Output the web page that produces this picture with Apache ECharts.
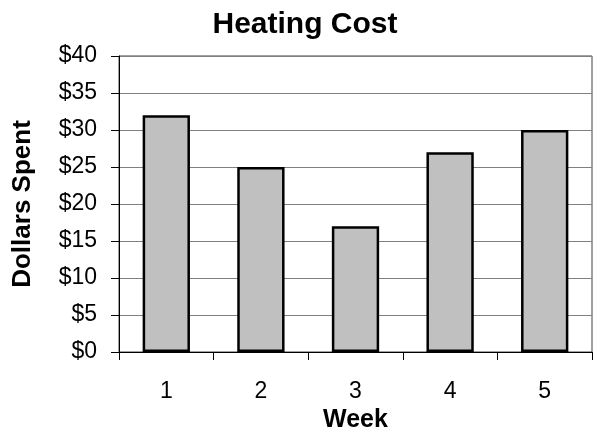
<!DOCTYPE html>
<html><head><meta charset="utf-8">
<script src="https://cdn.jsdelivr.net/npm/echarts@6/dist/echarts.min.js"></script>
<style>html,body{margin:0;padding:0;background:#fff}#c{width:594px;height:430px}</style>
</head><body><div id="c"></div>
<script>
const categories = ['1','2','3','4','5'];
const values = [32, 25, 17, 27, 30];
const yTicks = {min: 0, max: 40, interval: 5};
const chart = echarts.init(document.getElementById('c'), null, {renderer: 'canvas'});
const font = 'Liberation Sans, Arial, sans-serif';
chart.setOption({
  animation: false,
  title: {text: 'Heating Cost', left: 300, top: 5, textAlign: 'center',
    textStyle: {fontFamily: font, fontSize: 30, fontWeight: 'bold', color: '#000'}},
  grid: {left: 119, top: 56, right: 2, bottom: 78, show: true, borderColor: '#404040', borderWidth: 1,
    outerBoundsMode: 'none', containLabel: false},
  xAxis: {type: 'category', data: categories,
    name: 'Week', nameLocation: 'middle', nameGap: 43,
    nameTextStyle: {fontFamily: font, fontSize: 25, fontWeight: 'bold', color: '#000'},
    axisLine: {lineStyle: {color: '#000', width: 1}},
    axisTick: {show: true, length: 8, lineStyle: {color: '#000'}},
    axisLabel: {fontFamily: font, fontSize: 23, color: '#000', margin: 28}},
  yAxis: {type: 'value', min: yTicks.min, max: yTicks.max, interval: yTicks.interval,
    name: 'Dollars Spent', nameLocation: 'middle', nameGap: 83, nameRotate: 90,
    nameTextStyle: {fontFamily: font, fontSize: 26, fontWeight: 'bold', color: '#000'},
    axisLine: {show: true, lineStyle: {color: '#000', width: 1}},
    axisTick: {show: true, length: 8, lineStyle: {color: '#000'}},
    axisLabel: {fontFamily: font, fontSize: 23, color: '#000', margin: 22, formatter: v => '$' + v},
    splitLine: {lineStyle: {color: '#808080', width: 1}}},
  series: [{type: 'bar', data: values, barWidth: '50%',
    itemStyle: {color: '#c0c0c0', borderColor: '#000', borderWidth: 2.5}}]
});
</script></body></html>
